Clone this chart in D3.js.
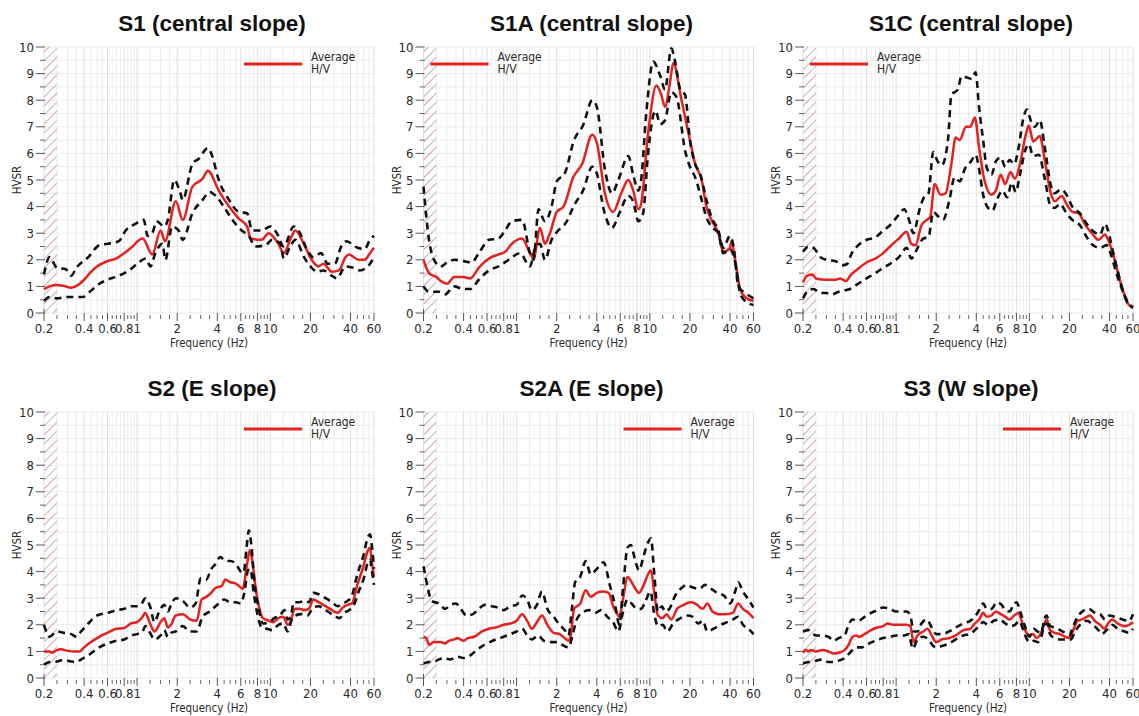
<!DOCTYPE html>
<html>
<head>
<meta charset="utf-8">
<script src="https://cdn.jsdelivr.net/npm/d3@7"></script>
<style>
  body { margin: 0; background: #fff; }
  svg { display: block; }
  .tick-label, .axis-title, .legend-text { font-family: "DejaVu Sans", Verdana, sans-serif; font-stretch: condensed; fill: #2a2a2a; }
  .panel-title { font-family: "Liberation Sans", Arial, sans-serif; font-weight: bold; fill: #111; }
</style>
</head>
<body>
<svg id="chart" width="1139" height="716"></svg>
<script>
// ---- H/V spectral ratio curves: [frequency (Hz), HVSR] ----
const s1Avg = [[0.2,0.9],[0.22,1.0],[0.25,1.05],[0.28,1.02],[0.32,0.95],[0.36,1.05],[0.4,1.25],[0.45,1.55],[0.5,1.75],[0.6,1.95],[0.7,2.05],[0.8,2.25],[0.9,2.45],[1.1,2.8],[1.3,2.2],[1.5,3.1],[1.62,2.7],[1.95,4.2],[2.2,3.5],[2.6,4.75],[3.1,5.05],[3.4,5.35],[4.1,4.6],[4.9,4.0],[5.8,3.55],[6.7,3.25],[7.1,2.8],[8.6,2.75],[9.7,3.0],[11.5,2.6],[12.6,2.25],[14.5,2.9],[15.4,3.1],[18.2,2.5],[20.4,2.0],[23,1.75],[25,1.85],[29,1.55],[32.7,1.6],[36.7,2.1],[39,2.2],[46,2.0],[51,2.0],[56,2.25],[60,2.45]];
const s1Upper = [[0.2,1.45],[0.22,2.1],[0.25,1.7],[0.29,1.65],[0.32,1.4],[0.35,1.7],[0.43,2.1],[0.52,2.55],[0.6,2.6],[0.73,2.7],[0.82,3.1],[0.97,3.35],[1.12,3.5],[1.2,2.9],[1.3,3.0],[1.4,3.45],[1.6,3.25],[1.7,3.5],[1.9,5.0],[2.1,4.55],[2.2,4.25],[2.6,5.6],[2.9,5.8],[3.4,6.2],[3.6,6.0],[4.1,5.0],[4.9,4.25],[5.8,3.8],[6.7,3.75],[7.3,3.1],[8.6,3.1],[10,3.25],[11.2,3.0],[12.6,2.5],[15,3.25],[16.3,3.1],[18.8,2.4],[21,2.1],[24,2.25],[27,1.85],[30.5,1.85],[34,2.5],[37.5,2.7],[43,2.5],[51,2.4],[56,2.75],[60,2.9]];
const s1Lower = [[0.2,0.45],[0.22,0.6],[0.25,0.55],[0.29,0.6],[0.39,0.6],[0.43,0.75],[0.52,1.1],[0.6,1.25],[0.73,1.4],[0.87,1.6],[1.03,1.9],[1.16,2.05],[1.26,1.75],[1.37,2.25],[1.55,2.6],[1.63,2.0],[1.83,3.25],[2.05,3.1],[2.2,2.75],[2.6,3.75],[3.1,4.25],[3.5,4.55],[3.9,4.4],[4.6,3.9],[5.2,3.5],[6.1,3.1],[6.9,2.9],[7.7,2.5],[9.2,2.55],[10.3,2.75],[11.9,2.6],[12.6,2.05],[14.1,2.5],[15.4,2.75],[17.9,2.1],[20,1.75],[22.5,1.55],[25,1.6],[29,1.4],[31.6,1.3],[36.7,1.75],[42,1.7],[47,1.6],[54,1.75],[60,2.1]];

const s1aAvg = [[0.2,2.0],[0.22,1.5],[0.25,1.35],[0.27,1.2],[0.3,1.1],[0.34,1.35],[0.4,1.35],[0.45,1.3],[0.52,1.7],[0.62,2.05],[0.73,2.2],[0.82,2.3],[0.92,2.6],[1.1,2.8],[1.26,2.25],[1.34,2.05],[1.5,3.2],[1.63,2.6],[1.78,3.0],[2.0,3.8],[2.25,4.0],[2.66,5.1],[3.1,5.6],[3.7,6.7],[4.0,6.4],[4.6,4.5],[5.3,3.8],[6.1,4.5],[6.9,5.0],[7.5,4.6],[8.2,3.9],[8.6,4.1],[9.7,6.75],[11.2,8.55],[12.2,8.2],[13,7.75],[14.1,8.6],[15,9.4],[17.3,8.0],[20,6.5],[21.9,5.6],[24.5,5.0],[26.6,4.0],[29,3.5],[32.7,3.0],[35.6,2.3],[40,2.45],[41,2.7],[43.7,2.0],[47.6,0.9],[52,0.6],[60,0.45]];
const s1aUpper = [[0.2,4.75],[0.22,2.75],[0.24,2.0],[0.27,1.75],[0.3,1.9],[0.34,2.0],[0.4,1.95],[0.46,1.9],[0.52,2.25],[0.62,2.75],[0.73,2.8],[0.82,3.1],[0.92,3.45],[1.1,3.5],[1.26,2.25],[1.34,2.0],[1.46,3.9],[1.63,3.45],[1.83,4.0],[2.0,4.95],[2.3,5.25],[2.7,6.5],[3.15,7.05],[3.7,8.0],[4.0,7.75],[4.6,5.4],[5.2,4.5],[5.8,5.0],[6.9,5.9],[7.5,5.2],[8.2,4.6],[8.6,5.0],[9.4,7.5],[10.6,9.45],[12,8.9],[13,8.4],[14.5,9.95],[15.4,9.5],[16.9,8.4],[18.4,8.2],[20,6.5],[21.9,5.6],[23.8,5.25],[26.6,4.25],[29,3.6],[32.7,3.1],[35.6,2.45],[40,2.9],[42.5,2.5],[46.3,1.0],[52,0.75],[60,0.55]];
const s1aLower = [[0.2,1.0],[0.22,0.8],[0.26,0.8],[0.29,0.7],[0.34,1.0],[0.4,0.9],[0.45,0.9],[0.52,1.25],[0.62,1.6],[0.73,1.75],[0.87,2.0],[1.06,2.25],[1.26,1.75],[1.37,2.4],[1.5,2.6],[1.63,2.0],[1.83,2.75],[2.05,3.1],[2.35,3.4],[2.7,4.05],[3.15,4.6],[3.7,5.5],[4.0,5.25],[4.5,3.9],[5.2,3.2],[5.9,3.75],[6.9,4.4],[7.5,4.2],[8.2,3.45],[8.9,3.75],[9.7,6.0],[11,7.6],[12,7.1],[13,7.25],[14.5,8.3],[15.9,8.1],[18.4,6.1],[20,5.5],[21.9,5.1],[24.5,4.25],[26.6,3.6],[29,3.25],[32.7,3.0],[35.6,2.25],[40,2.4],[43.7,1.9],[47.6,0.75],[52,0.45],[60,0.3]];

const s1cAvg = [[0.2,1.15],[0.215,1.4],[0.235,1.45],[0.25,1.3],[0.3,1.25],[0.35,1.25],[0.38,1.3],[0.42,1.2],[0.46,1.45],[0.5,1.6],[0.6,1.9],[0.7,2.05],[0.8,2.25],[0.9,2.5],[1.05,2.8],[1.2,3.05],[1.3,2.6],[1.4,2.55],[1.55,3.3],[1.7,3.5],[1.8,3.6],[1.95,4.85],[2.15,4.45],[2.35,4.5],[2.6,5.6],[2.8,6.6],[3.0,6.5],[3.35,7.0],[3.6,7.0],[3.9,7.35],[4.2,6.2],[4.6,5.0],[5.2,4.45],[5.6,4.6],[6.1,5.2],[6.6,4.85],[7.2,5.3],[7.8,5.05],[8.5,5.6],[9.4,6.7],[9.9,7.05],[10.7,6.45],[12,6.65],[13,5.8],[14.5,4.5],[15.5,4.2],[17.5,4.4],[19,4.1],[21,3.8],[23.5,3.75],[26,3.35],[30,2.95],[33,2.75],[37,2.95],[39,2.75],[42,2.3],[46,1.55],[50,0.9],[55,0.35],[60,0.2]];
const s1cUpper = [[0.2,2.3],[0.22,2.5],[0.24,2.45],[0.27,2.1],[0.3,2.0],[0.35,1.95],[0.4,1.8],[0.43,1.85],[0.46,2.2],[0.52,2.55],[0.6,2.75],[0.7,2.85],[0.8,3.1],[0.9,3.3],[1.05,3.7],[1.15,3.9],[1.25,3.5],[1.35,3.0],[1.5,3.9],[1.6,4.3],[1.75,4.5],[1.9,6.05],[2.05,5.7],[2.2,5.55],[2.45,6.5],[2.6,8.2],[2.9,8.4],[3.1,8.9],[3.4,8.85],[3.7,8.8],[3.95,9.05],[4.2,7.7],[4.5,6.5],[4.8,5.45],[5.2,5.2],[5.6,5.7],[6.1,5.85],[6.6,5.5],[7.1,5.75],[7.7,5.6],[8.3,6.2],[9.0,7.3],[9.6,7.65],[10.3,7.2],[11,7.0],[12,7.25],[13,6.3],[14.5,4.8],[15.5,4.5],[17.3,4.65],[19,4.45],[21,4.0],[24,3.75],[27,3.35],[30.5,3.05],[34,2.95],[37,3.35],[39,3.1],[42,2.4],[46,1.6],[50,0.9],[55,0.4],[60,0.22]];
const s1cLower = [[0.2,0.55],[0.22,0.85],[0.24,0.9],[0.27,0.75],[0.3,0.75],[0.33,0.7],[0.37,0.8],[0.41,0.85],[0.45,0.9],[0.5,1.05],[0.6,1.3],[0.7,1.5],[0.8,1.7],[0.9,1.85],[1.05,2.1],[1.2,2.45],[1.3,2.05],[1.45,2.45],[1.6,2.8],[1.75,2.85],[1.9,3.8],[2.05,3.65],[2.25,3.5],[2.5,4.2],[2.75,5.1],[3.0,4.95],[3.3,5.45],[3.65,5.7],[3.95,5.95],[4.2,5.4],[4.5,4.45],[4.9,3.95],[5.3,3.85],[5.7,4.25],[6.3,4.6],[6.8,4.35],[7.4,4.9],[7.9,4.55],[8.5,5.2],[9.3,6.1],[9.9,6.35],[10.7,5.9],[11.8,5.95],[13,5.1],[14.5,4.0],[15.5,3.95],[17,4.1],[19,3.75],[21,3.5],[24,3.3],[27,2.85],[30,2.55],[34,2.45],[38,2.55],[41,2.2],[45,1.5],[50,0.85],[55,0.35],[60,0.2]];

const s2Avg = [[0.2,1.0],[0.22,1.0],[0.23,0.95],[0.25,1.05],[0.27,1.08],[0.3,1.02],[0.34,1.0],[0.37,1.0],[0.4,1.15],[0.45,1.35],[0.5,1.5],[0.55,1.62],[0.6,1.7],[0.7,1.85],[0.8,1.88],[0.9,2.05],[1.0,2.1],[1.1,2.3],[1.15,2.45],[1.25,2.05],[1.35,1.75],[1.5,2.1],[1.6,2.25],[1.7,1.9],[1.8,2.0],[1.95,2.35],[2.2,2.4],[2.5,2.2],[2.8,2.15],[3.05,2.95],[3.3,3.05],[3.6,3.2],[3.9,3.4],[4.3,3.45],[4.6,3.7],[5.0,3.6],[5.5,3.55],[6.0,3.4],[6.2,3.35],[6.7,4.3],[7.0,4.8],[7.3,4.45],[7.7,3.5],[8.2,2.7],[8.8,2.25],[9.8,2.15],[10.5,2.1],[11.5,2.25],[12.5,2.3],[13.5,2.0],[14,2.05],[15.3,2.6],[16.5,2.6],[18,2.55],[19.5,2.6],[21,2.95],[23,2.85],[26,2.7],[29,2.55],[32,2.45],[35,2.65],[38,2.75],[41,2.8],[45,3.5],[50,4.2],[54,4.8],[56,4.9],[58,4.3],[60,3.8]];
const s2Upper = [[0.2,2.0],[0.22,1.55],[0.25,1.75],[0.28,1.7],[0.32,1.65],[0.35,1.55],[0.38,1.75],[0.43,2.05],[0.5,2.35],[0.6,2.45],[0.7,2.55],[0.8,2.6],[0.9,2.7],[1.0,2.7],[1.1,2.85],[1.15,3.0],[1.25,2.7],[1.35,2.1],[1.45,2.45],[1.6,2.75],[1.7,2.5],[1.8,2.75],[1.95,3.0],[2.2,2.9],[2.5,2.65],[2.75,2.8],[3.0,3.75],[3.3,3.7],[3.6,4.1],[3.9,4.3],[4.2,4.55],[4.6,4.4],[5.0,4.4],[5.5,4.3],[6.0,4.0],[6.3,3.95],[6.6,4.8],[6.9,5.55],[7.2,5.0],[7.6,3.6],[8.2,2.6],[8.8,2.05],[9.8,2.1],[10.7,2.25],[11.8,2.35],[12.8,2.55],[13.5,2.2],[14.2,2.3],[15,2.85],[16.5,2.85],[18,2.9],[19.5,2.85],[21,3.2],[23,3.15],[26,3.0],[29,2.85],[32,2.7],[35,2.8],[38,2.9],[41,3.1],[45,3.9],[50,4.6],[54,5.3],[56,5.4],[58,4.9],[60,4.1]];
const s2Lower = [[0.2,0.5],[0.22,0.6],[0.25,0.62],[0.28,0.68],[0.32,0.62],[0.35,0.6],[0.38,0.7],[0.43,0.85],[0.5,1.1],[0.6,1.3],[0.7,1.4],[0.8,1.45],[0.9,1.6],[1.0,1.65],[1.1,1.75],[1.15,1.95],[1.25,1.7],[1.35,1.45],[1.5,1.6],[1.6,1.8],[1.7,1.55],[1.8,1.7],[1.95,1.75],[2.2,1.95],[2.5,1.75],[2.8,1.75],[3.1,2.3],[3.5,2.5],[4.0,2.75],[4.5,2.95],[5.0,2.85],[5.5,2.85],[6.0,2.8],[6.4,3.25],[6.8,4.05],[7.1,4.1],[7.5,3.2],[8.0,2.4],[8.6,1.9],[9.4,1.85],[10.3,1.8],[11.5,2.0],[12.5,2.05],[13.5,1.75],[14.5,2.2],[15.5,2.35],[17,2.4],[19,2.35],[21,2.65],[23,2.7],[26,2.55],[30,2.35],[33,2.25],[36,2.45],[39,2.55],[42,2.7],[46,3.25],[50,3.7],[54,4.35],[56,4.45],[58,4.0],[60,3.5]];

const s2aAvg = [[0.2,1.55],[0.21,1.5],[0.22,1.25],[0.24,1.35],[0.27,1.35],[0.29,1.3],[0.31,1.4],[0.34,1.45],[0.36,1.5],[0.4,1.4],[0.43,1.5],[0.48,1.55],[0.55,1.75],[0.62,1.85],[0.7,1.9],[0.8,2.0],[0.9,2.05],[1.0,2.15],[1.1,2.4],[1.2,2.15],[1.3,1.85],[1.42,2.1],[1.55,2.35],[1.7,2.0],[1.9,1.7],[2.1,1.65],[2.3,1.5],[2.45,1.4],[2.55,1.6],[2.7,2.6],[3.0,2.8],[3.3,3.3],[3.6,3.05],[4.0,3.2],[4.4,3.25],[4.9,3.2],[5.3,2.7],[5.7,2.4],[5.9,2.3],[6.3,3.0],[6.8,3.8],[7.3,3.6],[7.8,3.35],[8.3,3.2],[9.0,3.5],[9.7,3.9],[10.2,4.05],[10.8,3.2],[11.5,2.35],[12.5,2.25],[13.3,2.4],[14.5,2.2],[16,2.6],[18,2.75],[20,2.85],[22,2.8],[25,2.6],[27,2.8],[29.5,2.5],[33,2.4],[37,2.4],[42,2.45],[46,2.8],[50,2.6],[55,2.45],[60,2.25]];
const s2aUpper = [[0.2,4.2],[0.215,3.4],[0.23,2.9],[0.26,2.8],[0.29,2.6],[0.32,2.75],[0.35,2.8],[0.38,2.6],[0.42,2.35],[0.47,2.4],[0.52,2.6],[0.58,2.75],[0.65,2.7],[0.72,2.65],[0.8,2.55],[0.9,2.7],[1.0,2.75],[1.1,3.1],[1.2,2.95],[1.3,2.55],[1.42,2.75],[1.55,3.25],[1.7,2.6],[1.9,2.3],[2.1,2.0],[2.3,1.8],[2.45,1.6],[2.6,2.6],[2.75,3.6],[3.0,3.8],[3.3,4.4],[3.6,3.9],[4.0,4.1],[4.5,4.35],[5.0,3.5],[5.5,2.7],[5.9,2.0],[6.3,3.4],[6.8,4.9],[7.2,5.0],[7.7,4.5],[8.3,4.05],[9.0,4.6],[9.7,5.1],[10.2,5.25],[10.8,3.9],[11.5,2.5],[12.3,2.7],[13,2.5],[14,2.6],[15.5,3.1],[17,3.35],[19,3.5],[21,3.4],[23.5,3.35],[26,3.5],[29,3.35],[32,3.2],[36,3.1],[40,2.8],[44,3.3],[46,3.6],[50,3.25],[55,2.95],[60,2.65]];
const s2aLower = [[0.2,0.55],[0.22,0.6],[0.25,0.65],[0.28,0.75],[0.32,0.7],[0.36,0.8],[0.4,0.75],[0.45,0.85],[0.5,1.05],[0.6,1.3],[0.7,1.45],[0.8,1.55],[0.9,1.65],[1.0,1.75],[1.1,1.85],[1.2,1.6],[1.3,1.45],[1.45,1.6],[1.6,1.4],[1.8,1.35],[2.0,1.35],[2.2,1.25],[2.45,1.15],[2.6,1.5],[2.8,2.15],[3.1,2.45],[3.5,2.55],[3.9,2.45],[4.3,2.55],[4.8,2.3],[5.3,2.1],[5.8,1.75],[6.3,2.5],[6.8,2.95],[7.3,2.8],[8.0,2.6],[8.6,2.6],[9.3,2.9],[10.1,3.25],[10.8,2.4],[11.5,1.95],[12.5,2.0],[13.5,1.75],[15,2.05],[17,2.25],[19,2.35],[21,2.3],[23,2.05],[25,2.15],[27,1.75],[30,1.85],[34,2.0],[38,2.1],[42,2.2],[46,2.3],[50,2.0],[55,1.85],[60,1.65]];

const s3Avg = [[0.2,0.95],[0.21,1.05],[0.22,1.0],[0.23,1.05],[0.25,1.0],[0.28,1.05],[0.31,1.0],[0.34,0.92],[0.37,0.95],[0.41,1.05],[0.44,1.25],[0.47,1.55],[0.5,1.6],[0.53,1.55],[0.58,1.65],[0.65,1.8],[0.72,1.9],[0.8,1.95],[0.86,2.05],[0.95,2.0],[1.05,2.0],[1.2,2.0],[1.28,1.95],[1.35,1.35],[1.45,1.6],[1.6,1.75],[1.72,1.85],[1.85,1.6],[2.0,1.35],[2.2,1.45],[2.5,1.5],[2.8,1.6],[3.2,1.8],[3.6,1.85],[3.9,2.05],[4.2,2.2],[4.5,2.45],[4.8,2.3],[5.2,2.35],[5.6,2.5],[6.1,2.4],[6.6,2.3],[7.1,2.2],[7.7,2.35],[8.3,2.45],[8.8,2.1],[9.4,1.75],[10,1.6],[10.7,1.65],[11.3,1.5],[12,1.6],[13,2.05],[13.5,2.2],[14.3,1.8],[15.5,1.7],[17,1.65],[18.5,1.55],[20,1.5],[21,1.7],[23,2.15],[25,2.2],[27,2.3],[28.5,2.35],[31,2.15],[34,2.0],[36.5,1.85],[39,2.05],[42,2.2],[46,2.05],[52,1.95],[56,2.0],[60,2.1]];
const s3Upper = [[0.2,1.75],[0.22,1.8],[0.25,1.6],[0.28,1.6],[0.31,1.55],[0.34,1.4],[0.37,1.5],[0.41,1.6],[0.44,2.0],[0.47,2.2],[0.52,2.15],[0.58,2.3],[0.65,2.45],[0.72,2.55],[0.8,2.65],[0.9,2.6],[1.0,2.5],[1.2,2.5],[1.28,2.35],[1.35,1.75],[1.45,1.75],[1.55,2.05],[1.7,2.2],[1.85,1.9],[2.0,1.65],[2.2,1.65],[2.5,1.75],[2.8,1.9],[3.2,2.05],[3.6,2.15],[3.9,2.3],[4.2,2.55],[4.5,2.8],[4.8,2.6],[5.2,2.6],[5.7,2.85],[6.2,2.75],[6.6,2.55],[7.1,2.5],[7.6,2.75],[8.0,2.85],[8.6,2.45],[9.2,2.0],[10,1.55],[10.8,1.85],[11.5,1.75],[12.3,1.7],[13,2.25],[13.5,2.35],[14.3,1.95],[15.5,1.9],[17,1.8],[18.5,1.7],[20,1.6],[21,1.85],[23,2.3],[25,2.5],[28,2.6],[31,2.45],[34,2.4],[37,2.2],[40,2.35],[44,2.3],[50,2.2],[56,2.15],[60,2.4]];
const s3Lower = [[0.2,0.55],[0.22,0.6],[0.25,0.65],[0.28,0.7],[0.31,0.6],[0.34,0.6],[0.37,0.65],[0.41,0.75],[0.45,0.95],[0.5,1.15],[0.55,1.15],[0.6,1.25],[0.7,1.4],[0.8,1.5],[0.9,1.55],[1.0,1.6],[1.15,1.6],[1.25,1.65],[1.33,1.1],[1.45,1.45],[1.6,1.55],[1.75,1.45],[1.9,1.2],[2.0,1.15],[2.2,1.2],[2.5,1.3],[2.8,1.45],[3.2,1.6],[3.6,1.65],[3.9,1.8],[4.2,1.95],[4.5,2.1],[4.9,2.0],[5.4,2.15],[6.0,2.2],[6.6,2.05],[7.2,1.95],[7.8,2.0],[8.4,2.15],[9.0,1.8],[9.6,1.45],[10.2,1.35],[10.8,1.4],[11.5,1.35],[12.3,1.55],[13,2.0],[13.6,2.05],[14.3,1.65],[15.5,1.5],[17,1.45],[19,1.45],[20.5,1.45],[22,1.75],[24,2.0],[27,2.15],[30,2.0],[33,1.8],[35,1.65],[38,1.8],[42,2.0],[46,1.85],[52,1.75],[56,1.7],[60,1.85]];

// ---- panel titles and axis ticks ----
const titles = ["S1 (central slope)", "S1A (central slope)", "S1C (central slope)", "S2 (E slope)", "S2A (E slope)", "S3 (W slope)"];
const legendSide = ["right", "left", "left", "right", "right", "right"];
const freqLabels = [0.2, 0.4, 0.6, 0.8, 1, 2, 4, 6, 8, 10, 20, 40, 60];
const freqMinor = [0.25, 0.3, 0.35, 0.45, 0.5, 0.55, 0.65, 0.7, 0.75, 0.85, 0.9, 0.95, 1.25, 1.5, 1.75, 2.5, 3, 3.5, 4.5, 5, 5.5, 6.5, 7, 7.5, 8.5, 9, 9.5, 12.5, 15, 17.5, 25, 30, 35, 45, 50, 55];
const hvsrLabels = [0, 1, 2, 3, 4, 5, 6, 7, 8, 9, 10];
const hvsrMinor = [0.5, 1.5, 2.5, 3.5, 4.5, 5.5, 6.5, 7.5, 8.5, 9.5];
const freqDomain = [0.2, 60];
const hvsrDomain = [0, 10];
const lowFreqLimit = 0.25;   // hatched band below the usable frequency

const curves = [
  [s1Avg, s1Upper, s1Lower], [s1aAvg, s1aUpper, s1aLower], [s1cAvg, s1cUpper, s1cLower],
  [s2Avg, s2Upper, s2Lower], [s2aAvg, s2aUpper, s2aLower], [s3Avg, s3Upper, s3Lower]
];

// ---- layout ----
const colLeft = [44, 423.5, 803];
const rowTop = [47, 412];
const plotW = 330, plotH = 266;
const RED = "#e5211f";

const svg = d3.select("#chart");
svg.append("rect").attr("width", 1139).attr("height", 716).attr("fill", "#fff");
const defs = svg.append("defs");

titles.forEach((title, i) => {
  const left = colLeft[i % 3], top = rowTop[Math.floor(i / 3)];
  const x = d3.scaleLog().domain(freqDomain).range([left, left + plotW]);
  const y = d3.scaleLinear().domain(hvsrDomain).range([top + plotH, top]);
  const bottom = y(0);
  const g = svg.append("g");

  // grid
  const grid = g.append("g");
  grid.selectAll(".hg").data(hvsrLabels.concat(hvsrMinor)).join("line")
    .attr("x1", x(freqDomain[0])).attr("x2", x(freqDomain[1]))
    .attr("y1", d => y(d)).attr("y2", d => y(d))
    .attr("stroke", "#ebebeb").attr("stroke-width", 1);
  grid.selectAll(".vg").data(freqMinor).join("line")
    .attr("x1", d => x(d)).attr("x2", d => x(d))
    .attr("y1", y(10)).attr("y2", bottom)
    .attr("stroke", "#ededed").attr("stroke-width", 1);
  grid.selectAll(".vgm").data(freqLabels).join("line")
    .attr("x1", d => x(d)).attr("x2", d => x(d))
    .attr("y1", y(10)).attr("y2", bottom)
    .attr("stroke", "#e0e0e0").attr("stroke-width", 1);

  // hatched low-frequency band
  const clipId = "hatch" + i;
  defs.append("clipPath").attr("id", clipId).append("rect")
    .attr("x", x(freqDomain[0])).attr("y", y(10))
    .attr("width", x(lowFreqLimit) - x(freqDomain[0])).attr("height", plotH);
  const hatch = g.append("g").attr("clip-path", `url(#${clipId})`);
  hatch.selectAll("line").data(d3.range(y(10) - 4, bottom + 20, 9)).join("line")
    .attr("x1", x(freqDomain[0])).attr("y1", d => d)
    .attr("x2", x(freqDomain[0]) + 16).attr("y2", d => d - 16)
    .attr("stroke", (d, k) => k % 2 ? "#d9a9b6" : "#c4bfc1").attr("stroke-width", 1.1);

  // y axis ticks + labels
  const yax = g.append("g");
  yax.selectAll(".yt").data(hvsrLabels).join("line")
    .attr("x1", left - 8).attr("x2", left + 1)
    .attr("y1", d => y(d)).attr("y2", d => y(d))
    .attr("stroke", "#555").attr("stroke-width", 1);
  yax.selectAll(".ym").data(hvsrMinor).join("line")
    .attr("x1", left - 4).attr("x2", left + 1)
    .attr("y1", d => y(d)).attr("y2", d => y(d))
    .attr("stroke", "#666").attr("stroke-width", 1);
  yax.selectAll("text").data(hvsrLabels).join("text")
    .attr("class", "tick-label")
    .attr("x", left - 10).attr("y", d => y(d))
    .attr("text-anchor", "end").attr("dominant-baseline", "central")
    .attr("font-size", 13).text(d => d);
  yax.append("line").attr("x1", left).attr("x2", left)
    .attr("y1", bottom - 4).attr("y2", bottom).attr("stroke", "#555");

  // x axis ticks + labels
  const xax = g.append("g");
  xax.selectAll(".xt").data(freqLabels).join("line")
    .attr("x1", d => x(d)).attr("x2", d => x(d))
    .attr("y1", bottom).attr("y2", bottom + 8)
    .attr("stroke", "#555").attr("stroke-width", 1);
  xax.selectAll(".xm").data(freqMinor).join("line")
    .attr("x1", d => x(d)).attr("x2", d => x(d))
    .attr("y1", bottom + 2).attr("y2", bottom + 6)
    .attr("stroke", "#666").attr("stroke-width", 1);
  xax.selectAll("text").data(freqLabels).join("text")
    .attr("class", "tick-label")
    .attr("x", d => x(d)).attr("y", bottom + 15)
    .attr("text-anchor", "middle").attr("dominant-baseline", "central")
    .attr("font-size", 13).text(d => d);

  // axis titles
  g.append("text").attr("class", "axis-title")
    .attr("x", left + plotW / 2).attr("y", bottom + 30)
    .attr("text-anchor", "middle").attr("dominant-baseline", "central")
    .attr("font-size", 11.5).text("Frequency (Hz)");
  g.append("text").attr("class", "axis-title")
    .attr("transform", `translate(${left - 27},${(y(0) + y(10)) / 2}) rotate(-90)`)
    .attr("text-anchor", "middle").attr("dominant-baseline", "central")
    .attr("font-size", 11.5).text("HVSR");

  // panel title
  g.append("text").attr("class", "panel-title")
    .attr("x", left + plotW / 2 + 3).attr("y", top - 16)
    .attr("text-anchor", "middle").attr("font-size", 22.5).text(title);

  // curves
  const line = d3.line().x(d => x(d[0])).y(d => y(d[1])).curve(d3.curveMonotoneX);
  const [avg, upper, lower] = curves[i];
  g.append("path").datum(avg).attr("d", line)
    .attr("fill", "none").attr("stroke", RED).attr("stroke-width", 2.5)
    .attr("stroke-linejoin", "round");
  [upper, lower].forEach(c => {
    g.append("path").datum(c).attr("d", line)
      .attr("fill", "none").attr("stroke", "#111").attr("stroke-width", 2.6)
      .attr("stroke-dasharray", "7,5");
  });

  // legend
  const lx = legendSide[i] === "right" ? left + 200 : left + 7;
  const leg = g.append("g");
  leg.append("line").attr("x1", lx).attr("x2", lx + 58)
    .attr("y1", top + 17).attr("y2", top + 17)
    .attr("stroke", RED).attr("stroke-width", 3.2);
  leg.append("text").attr("class", "legend-text")
    .attr("x", lx + 67).attr("y", top + 10).attr("dominant-baseline", "central")
    .attr("font-size", 12).text("Average");
  leg.append("text").attr("class", "legend-text")
    .attr("x", lx + 67).attr("y", top + 22).attr("dominant-baseline", "central")
    .attr("font-size", 12).text("H/V");
});
</script>
</body>
</html>
